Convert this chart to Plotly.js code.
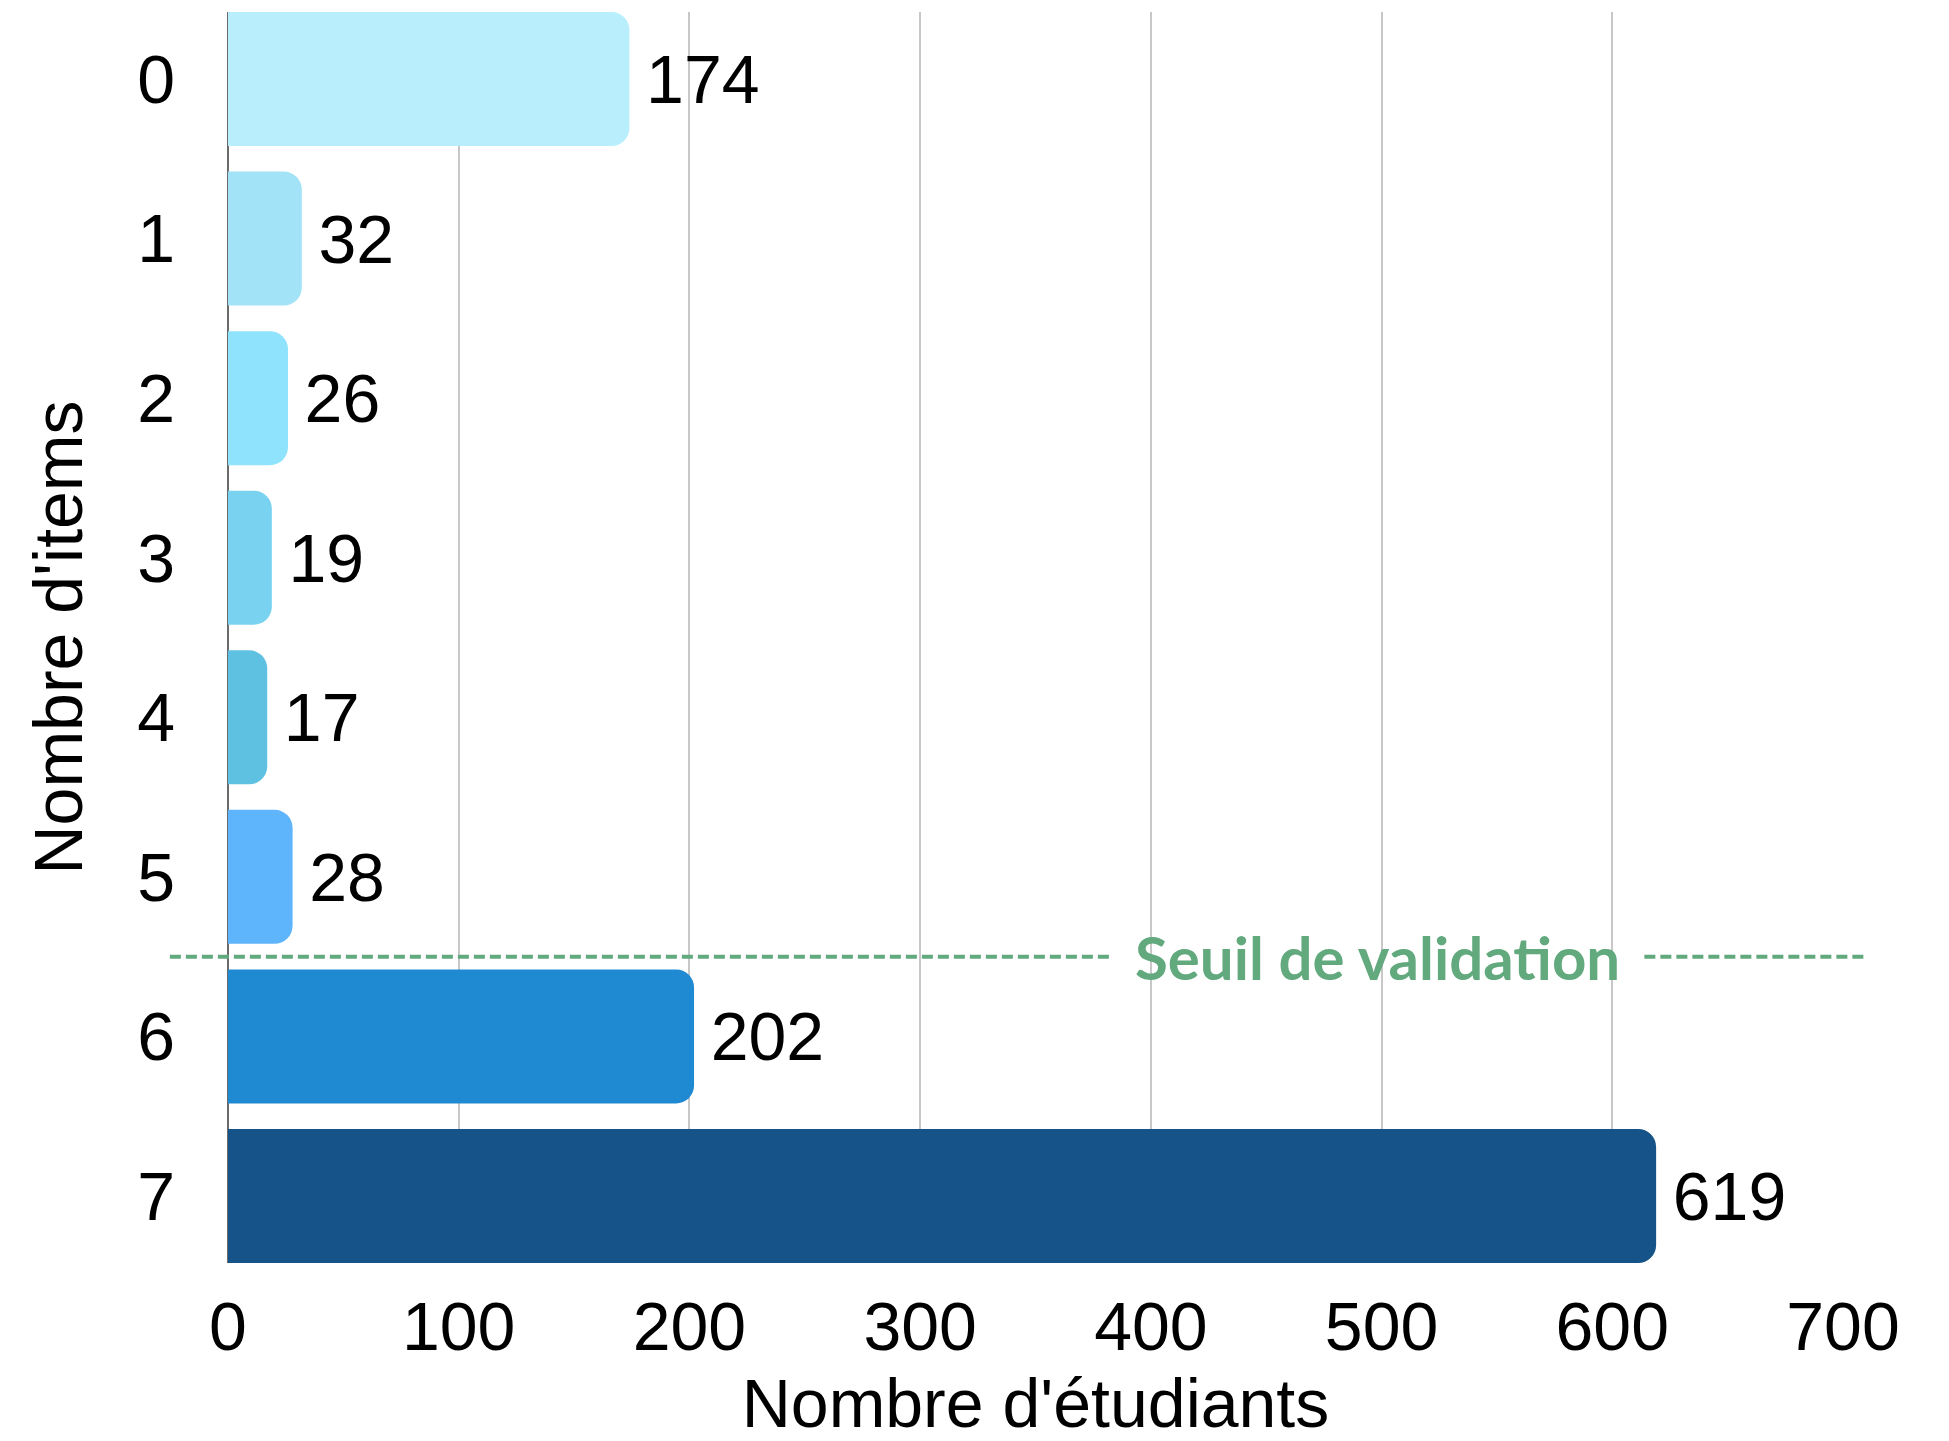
<!DOCTYPE html>
<html>
<head>
<meta charset="utf-8">
<script src="https://cdn.plot.ly/plotly-3.0.1.min.js"></script>
<style>html,body{margin:0;padding:0;background:#fff;}#chart{width:1949px;height:1441px;}</style>
</head>
<body>
<div id="chart"></div>
<script>
const categories = ["0", "1", "2", "3", "4", "5", "6", "7"];
const students = [174, 32, 26, 19, 17, 28, 202, 619];
const barColors = ["#B9EEFD", "#A2E3F8", "#8FE3FC", "#79D3F0", "#5FC1E2", "#5EB5FC", "#1F89D1", "#165389"];
const xTicks = [0, 100, 200, 300, 400, 500, 600, 700];
const thresholdLabel = "Seuil de validation";
const xTitle = "Nombre d'étudiants";
const yTitle = "Nombre d'items";

const FONT = "Liberation Sans, Arial, sans-serif";
const GREEN = "#62A97E";

const trace = {
  type: "bar",
  orientation: "h",
  x: students,
  y: categories,
  marker: { color: barColors, cornerradius: 18, line: { width: 0 } },
  text: students.map(String),
  texttemplate: "\u2009%{x}",
  textposition: "outside",
  constraintext: "none",
  cliponaxis: false,
  outsidetextfont: { family: FONT, size: 68, color: "#000" },
  hoverinfo: "skip"
};

const layout = {
  width: 1949,
  height: 1441,
  margin: { l: 228, r: 106, t: 12, b: 178, autoexpand: false },
  paper_bgcolor: "#fff",
  plot_bgcolor: "#fff",
  showlegend: false,
  bargap: 0.16,
  font: { family: FONT, size: 68, color: "#000" },
  xaxis: {
    range: [0, 700],
    tickvals: xTicks,
    ticktext: xTicks.map(String),
    showgrid: true,
    gridcolor: "#C8C8C8",
    gridwidth: 2,
    zeroline: true,
    zerolinecolor: "#6B6B6B",
    zerolinewidth: 1.5,
    showline: false,
    ticks: "",
    ticklabelstandoff: 18,
    tickfont: { family: FONT, size: 68, color: "#000" },
    title: { text: xTitle, font: { family: FONT, size: 68, color: "#000" }, standoff: 20 },
    automargin: false,
    fixedrange: true
  },
  yaxis: {
    type: "category",
    categoryorder: "array",
    categoryarray: categories,
    range: [7.42, -0.42],
    showgrid: false,
    zeroline: false,
    showline: false,
    ticks: "",
    ticklabelstandoff: 52,
    tickfont: { family: FONT, size: 68, color: "#000" },
    title: { text: yTitle, font: { family: FONT, size: 68, color: "#000" }, standoff: 32 },
    automargin: false,
    fixedrange: true
  },
  shapes: [
    { type: "line", xref: "paper", yref: "y", x0: -0.036, x1: 0.548, y0: 5.5, y1: 5.5,
      line: { color: GREEN, width: 4, dash: "11px,5px" }, layer: "above" },
    { type: "line", xref: "paper", yref: "y", x0: 0.877, x1: 1.015, y0: 5.5, y1: 5.5,
      line: { color: GREEN, width: 4, dash: "11px,5px" }, layer: "above" }
  ],
  annotations: [
    { xref: "paper", yref: "y", x: 0.712, y: 5.5, xanchor: "center", yanchor: "middle",
      text: "<b>" + thresholdLabel + "</b>", showarrow: false,
      font: { family: "Lato, sans-serif", size: 60, color: GREEN } }
  ]
};

Plotly.newPlot("chart", [trace], layout, { displayModeBar: false, staticPlot: true });
</script>
</body>
</html>
